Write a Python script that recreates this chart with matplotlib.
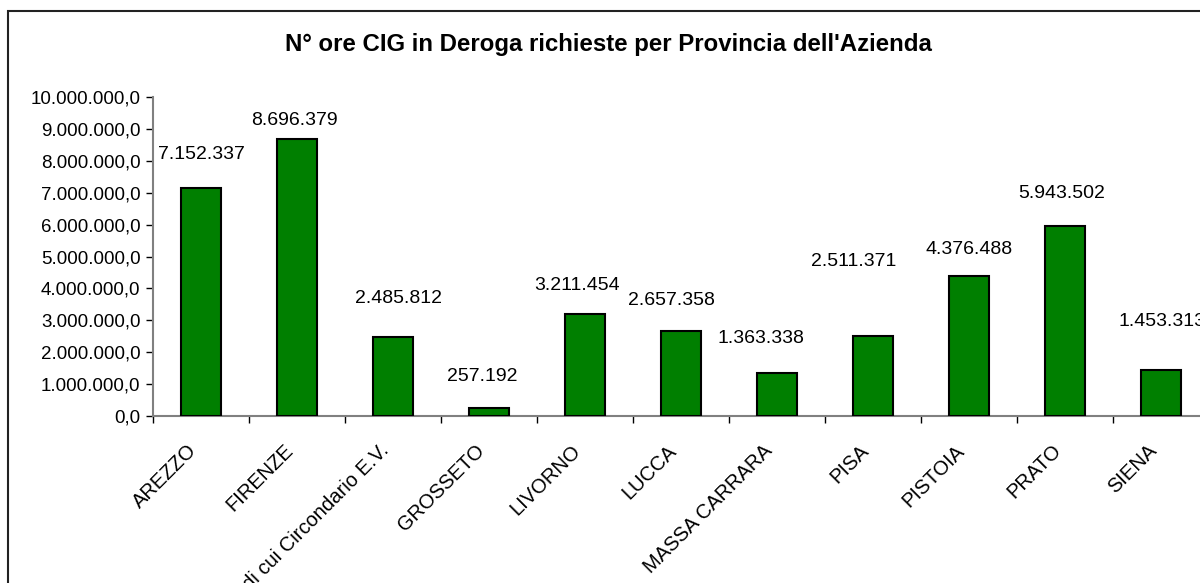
import matplotlib
matplotlib.use("Agg")
import matplotlib.pyplot as plt
from matplotlib.ticker import FuncFormatter, FixedLocator, MultipleLocator
from matplotlib.patches import Rectangle
from matplotlib.transforms import ScaledTranslation


TITLE = "N° ore CIG in Deroga richieste per Provincia dell'Azienda"

provinces = [
    "AREZZO", "FIRENZE", "di cui Circondario E.V.", "GROSSETO", "LIVORNO",
    "LUCCA", "MASSA CARRARA", "PISA", "PISTOIA", "PRATO", "SIENA",
]
hours = [
    7152337, 8696379, 2485812, 257192, 3211454,
    2657358, 1363338, 2511371, 4376488, 5943502, 1453313,
]

# label placement relative to bar top (pixels: dx, dy above top)
label_offsets = [
    (0, 33), (-3, 18), (5, 38), (-7, 31), (-8, 28),
    (-10, 31), (-16, 34), (-19, 74), (0, 27), (-3, 33), (1, 48),
]

BAR_GREEN = "#007F00"
AXIS_GRAY = "#808080"


def it_number(v, decimals=0):
    s = f"{v:,.{decimals}f}"
    return s.replace(",", "X").replace(".", ",").replace("X", ".")


def main() -> None:
    plt.rcParams["font.family"] = ["Liberation Sans", "DejaVu Sans"]

    fig = plt.figure(figsize=(12, 5.83), dpi=100)
    ax = fig.add_axes([153 / 1200, 1 - 416 / 583, 1056 / 1200, 319 / 583])

    x = list(range(len(provinces)))
    ax.bar(x, hours, width=0.42, color=BAR_GREEN, edgecolor="black",
           linewidth=1.5, zorder=3)

    ax.set_xlim(-0.5, len(provinces) - 0.5)
    ax.set_ylim(0, 10_000_000)
    ax.yaxis.set_major_locator(MultipleLocator(1_000_000))
    ax.yaxis.set_major_formatter(FuncFormatter(lambda v, _: it_number(v, 1)))

    # category labels at centres, tick marks at category boundaries
    ax.set_xticks(x)
    ax.set_xticklabels(provinces, rotation=45, ha="right",
                       rotation_mode="anchor", fontsize=14.5)
    ax.tick_params(axis="x", length=0, pad=18)
    shift = ScaledTranslation(-14 / 100, 0, fig.dpi_scale_trans)
    for lbl in ax.get_xticklabels():
        lbl.set_transform(lbl.get_transform() + shift)
    ax.xaxis.set_minor_locator(FixedLocator([i - 0.5 for i in range(len(provinces) + 1)]))
    ax.tick_params(axis="x", which="minor", length=5, color="black", width=1)
    ax.tick_params(axis="y", length=5, color="black", width=1, labelsize=13.5, pad=4)

    for side in ("top", "right"):
        ax.spines[side].set_visible(False)
    for side in ("left", "bottom"):
        ax.spines[side].set_color(AXIS_GRAY)
        ax.spines[side].set_linewidth(1.5)

    for xi, val, (dx, dy) in zip(x, hours, label_offsets):
        ax.annotate(it_number(val), xy=(xi, val),
                    xytext=(dx * 0.72, dy * 0.72), textcoords="offset points",
                    ha="center", va="center", fontsize=14, clip_on=False)

    fig.text(608 / 1200, 1 - 44 / 583, TITLE, ha="center", va="center",
             fontsize=17.3, fontweight="bold")

    # outer chart frame (right and bottom edges fall outside the image)
    fig.patches.append(Rectangle((8 / 1200, -0.1), 1.2, 1.1 - 11 / 583,
                                 transform=fig.transFigure, fill=False,
                                 edgecolor="#222222", linewidth=1.5))

    fig.savefig("out.png", dpi=100)
    plt.close(fig)


if __name__ == "__main__":
    main()
